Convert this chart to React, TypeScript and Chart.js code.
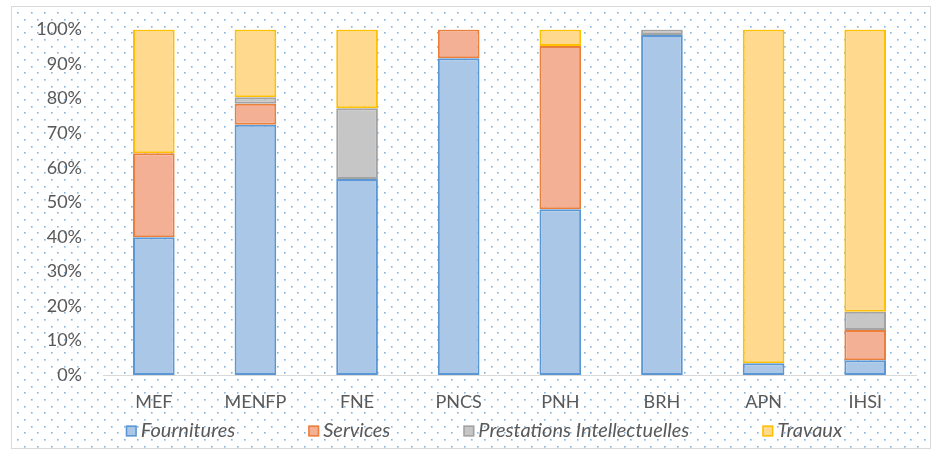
import React, { useEffect, useRef } from "react";
import { Chart, registerables } from "chart.js";

Chart.register(...registerables);

const categories = ["MEF", "MENFP", "FNE", "PNCS", "PNH", "BRH", "APN", "IHSI"];
const fournitures = [39.9, 72.4, 56.7, 91.7, 48.0, 98.4, 3.4, 4.3];
const services = [24.3, 6.1, null, 8.3, 47.2, null, null, 8.7];
const prestations = [null, 1.9, 20.5, null, null, 1.6, null, 5.3];
const travaux = [35.8, 19.6, 22.8, null, 4.8, null, 96.6, 81.7];
const seriesNames = ["Fournitures", "Services", "Prestations Intellectuelles", "Travaux"];

const fills = ["#abc7e8", "#f4b094", "#c6c6c6", "#fed98e"];
const borders = ["#5b97d4", "#ea7f3c", "#a3a3a3", "#ffc000"];

const FONT = "Lato, 'Open Sans', sans-serif";
const TEXT = "#595959";

const backgroundPlugin = {
  id: "bgDots",
  beforeDraw(chart: any) {
    const ctx = chart.ctx;
    const w = chart.width;
    const h = chart.height;
    ctx.save();
    ctx.fillStyle = "#ffffff";
    ctx.fillRect(0, 0, w, h);
    const l = 11, t = 6, r = 930, b = 448;
    ctx.fillStyle = "rgba(91,155,213,0.75)";
    const step = 13.33;
    let row = 0;
    for (let y = 13.3; y < b - 1; y += step / 2, row++) {
      const off = row % 2 === 0 ? 0 : step / 2;
      for (let x = 18.3 + off - step; x < r - 1; x += step) {
        if (x < l + 1) continue;
        ctx.fillRect(Math.round(x) - 1, Math.round(y) - 1, 1.6, 1.6);
      }
    }
    ctx.strokeStyle = "#d9d9d9";
    ctx.lineWidth = 1;
    ctx.strokeRect(l + 0.5, t + 0.5, r - l, b - t);
    ctx.restore();
  },
};

const legendPlugin = {
  id: "customLegend",
  afterDraw(chart: any) {
    const ctx = chart.ctx;
    ctx.save();
    ctx.font = `italic 20px ${FONT}`;
    const box = 11;
    const gapText = 4;
    const gapItem = 73;
    const widths = seriesNames.map((n) => box + gapText + ctx.measureText(n).width);
    const total = widths.reduce((a, c) => a + c, 0) + gapItem * (seriesNames.length - 1);
    const center = 484;
    let x = center - total / 2;
    const yc = 431;
    ctx.textBaseline = "middle";
    ctx.textAlign = "left";
    seriesNames.forEach((n, i) => {
      ctx.fillStyle = fills[i];
      ctx.fillRect(x, yc - box / 2, box, box);
      ctx.strokeStyle = borders[i];
      ctx.lineWidth = 1.5;
      ctx.strokeRect(x + 0.75, yc - box / 2 + 0.75, box - 1.5, box - 1.5);
      ctx.fillStyle = TEXT;
      ctx.fillText(n, x + box + gapText, yc);
      x += widths[i] + gapItem;
    });
    ctx.restore();
  },
};

export default function App() {
  const ref = useRef<HTMLCanvasElement | null>(null);
  useEffect(() => {
    if (!ref.current) return;
    const data = [fournitures, services, prestations, travaux];
    const chart = new Chart(ref.current, {
      type: "bar",
      data: {
        labels: categories,
        datasets: seriesNames.map((name, i) => ({
          label: name,
          data: data[i] as any,
          backgroundColor: fills[i],
          borderColor: borders[i],
          borderWidth: 2,
          borderSkipped: false,
          barPercentage: 0.41,
          categoryPercentage: 1,
        })),
      },
      options: {
        animation: false,
        responsive: false,
        maintainAspectRatio: false,
        layout: { padding: { left: 0, right: 24, top: 29.5, bottom: 31 } },
        plugins: {
          legend: { display: false },
          tooltip: { enabled: false },
        },
        scales: {
          x: {
            stacked: true,
            grid: { display: false, drawTicks: false },
            border: { display: true, color: "#d9d9d9", width: 1 },
            ticks: { color: TEXT, font: { family: FONT, size: 18 }, padding: 16 },
            afterFit: (s: any) => { s.height = 45; },
          },
          y: {
            stacked: true,
            min: 0,
            max: 100,
            grid: { display: false, drawTicks: false },
            border: { display: false },
            ticks: {
              stepSize: 10,
              color: TEXT,
              font: { family: FONT, size: 18, lineHeight: 0.8 },
              padding: 21,
              callback: (v: any) => `${v}%`,
            },
            afterFit: (s: any) => { s.width = 103; },
          },
        },
      },
      plugins: [backgroundPlugin, legendPlugin],
    });
    return () => chart.destroy();
  }, []);
  return (
    <div style={{ position: "absolute", left: 0, top: 0, width: 940, height: 451 }}>
      <canvas ref={ref} width={940} height={451} style={{ width: 940, height: 451 }} />
    </div>
  );
}
